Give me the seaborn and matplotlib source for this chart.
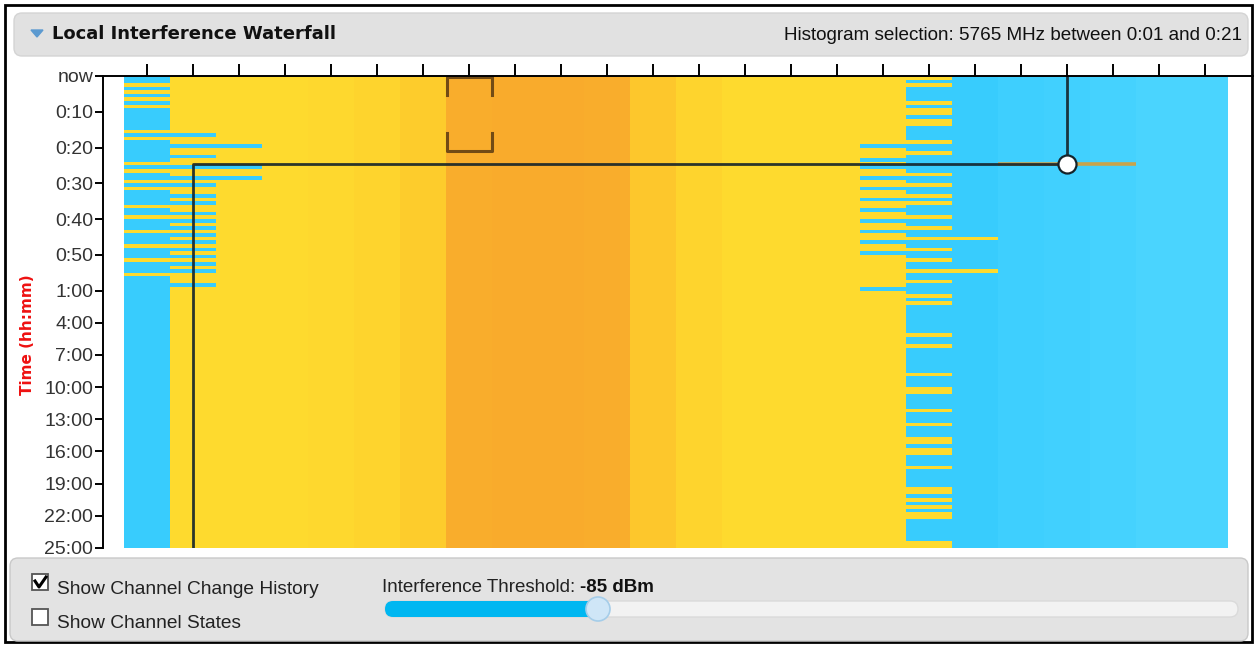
import numpy as np
import pandas as pd
import matplotlib
matplotlib.use("Agg")
import matplotlib.pyplot as plt
import seaborn as sns
from matplotlib.colors import LinearSegmentedColormap
from matplotlib.patches import FancyBboxPatch, Rectangle, Circle, Polygon

# interference level of each channel column (dBm)
channel_levels = [-95, -80, -80, -80, -79.7, -79, -77.5, -71, -70.5, -70.5, -71, -76.5,
                  -79, -80, -80, -80, -80, -95, -95, -96, -96.5, -97.5, -99, -99]
yellow_level = -80
blue_level = -95

# 60 one-minute rows for the first hour, then 72 rows of 20 minutes
first_hour_rows = 60
later_rows = 72

# first hour: how many channels from the left are under the threshold
left_blue = [1, 1, 0, 1, 0, 1, 0, 1, 0, 1, 1, 1, 1, 1, 1, 0, 2, 0, 1, 3,
             1, 1, 2, 1, 0, 3, 0, 1, 3, 0, 2, 0, 1, 2, 1, 2, 0, 1, 2, 0,
             2, 1, 2, 0, 2, 1, 2, 0, 2, 1, 2, 0, 2, 1, 2, 0, 1, 1, 2, 1]
# right edge of the band
col16_blue_rows = [19, 23, 25, 28, 31, 34, 37, 40, 43, 46, 49, 59]
col17_yellow_rows = [0, 2, 7, 9, 10, 12, 13, 18, 21, 27, 30, 33, 35, 39, 42, 45, 48, 51, 54,
                     57, 61, 63, 72, 75, 83, 87, 88, 93, 97, 101, 102, 104, 105, 109, 115,
                     116, 118, 120, 122, 123, 130, 131]
col18_yellow_rows = [45, 54]

# channel change history and histogram selection
old_channel = 1
new_channel = 20
change_row = 24.5
selected_channel = 7
selection_rows = (0.3, 21)

tick_minutes = [0, 10, 20, 30, 40, 50, 60, 240, 420, 600, 780, 960, 1140, 1320, 1500]
tick_labels = ["now", "0:10", "0:20", "0:30", "0:40", "0:50", "1:00", "4:00", "7:00",
               "10:00", "13:00", "16:00", "19:00", "22:00", "25:00"]

n_rows = first_hour_rows + later_rows
n_cols = len(channel_levels)
grid = np.tile(np.array(channel_levels, dtype=float), (n_rows, 1))
for r, k in enumerate(left_blue):
    grid[r, :k] = blue_level
    if k == 0:
        grid[r, 0] = yellow_level
for r in col16_blue_rows:
    grid[r, 16] = blue_level
for r in col17_yellow_rows:
    grid[r, 17] = yellow_level
for r in col18_yellow_rows:
    grid[r, 18] = yellow_level
df = pd.DataFrame(grid)

vmin, vmax = -100, -70
stops = [(-100, "#4dd5fe"), (-97, "#43d1fe"), (-95, "#38ccfd"), (-85.01, "#38ccfd"),
         (-85, "#ffdc2f"), (-80, "#feda2e"), (-77, "#fdca2c"), (-74, "#fbb92b"), (-70, "#f9a92c")]
cmap = LinearSegmentedColormap.from_list(
    "waterfall", [((v - vmin) / (vmax - vmin), c) for v, c in stops])

fig = plt.figure(figsize=(12.58, 6.46), dpi=100)

# background ui layer in pixel coords
ui = fig.add_axes([0, 0, 1, 1], zorder=0)
ui.set_xlim(0, 1258)
ui.set_ylim(646, 0)
ui.axis("off")
ui.add_patch(Rectangle((5, 5), 1247, 637, facecolor="white", edgecolor="black", lw=2))
ui.add_patch(FancyBboxPatch((14, 13), 1234, 43, boxstyle="round,pad=0,rounding_size=8",
                            facecolor="#e1e1e1", edgecolor="#d4d4d4", lw=1))
ui.add_patch(Polygon([(31, 30), (43, 30), (37, 37)], closed=True, color="#5c9ad0"))
ui.text(52, 34, "Local Interference Waterfall", fontsize=13, fontweight="bold",
        family="DejaVu Sans", va="center", ha="left", color="#111111")
ui.text(1242, 36, "Histogram selection: 5765 MHz between 0:01 and 0:21", fontsize=13.6,
        family="Liberation Sans", va="center", ha="right", color="#111111")

ui.add_patch(FancyBboxPatch((10, 558), 1238, 83, boxstyle="round,pad=0,rounding_size=8",
                            facecolor="#e3e3e3", edgecolor="#c9c9c9", lw=1))
ui.add_patch(Rectangle((32, 574), 16, 16, facecolor="white", edgecolor="#555555", lw=1.3))
ui.plot([35, 39, 46], [581, 587, 577], color="black", lw=2.2)
ui.add_patch(Rectangle((32, 609), 16, 16, facecolor="white", edgecolor="#555555", lw=1.3))
ui.text(57, 590, "Show Channel Change History", fontsize=13.8, family="Liberation Sans",
        va="center", ha="left", color="#222222")
ui.text(57, 624, "Show Channel States", fontsize=13.8, family="Liberation Sans",
        va="center", ha="left", color="#222222")
t = ui.text(382, 588, "Interference Threshold: ", fontsize=13.5, family="Liberation Sans",
            va="center", ha="left", color="#222222")
ui.annotate("-85 dBm", xycoords=t, xy=(1, 0.5), va="center", ha="left", fontsize=13.5,
            fontweight="bold", family="Liberation Sans", color="#111111")
ui.add_patch(FancyBboxPatch((385, 601), 853, 16, boxstyle="round,pad=0,rounding_size=8",
                            facecolor="#f2f2f2", edgecolor="#dadada", lw=1))
ui.add_patch(FancyBboxPatch((385, 601), 213, 16, boxstyle="round,pad=0,rounding_size=8",
                            facecolor="#00b7f1", edgecolor="none"))
ui.add_patch(Circle((598, 609), 12, facecolor="#cfe6f7", edgecolor="#a5cde9", lw=1.2))
ui.text(28, 335, "Time (hh:mm)", fontsize=11, fontweight="bold", family="DejaVu Sans",
        rotation=90, va="center", ha="center", color="#ee1111")

# waterfall heatmap
ax = fig.add_axes([103 / 1258, 1 - 548 / 646, 1150 / 1258, 472 / 646], zorder=1)
ax.patch.set_alpha(0)
sns.heatmap(df, ax=ax, cmap=cmap, vmin=vmin, vmax=vmax, cbar=False,
            xticklabels=False, yticklabels=False)
ax.set_xlim(-0.46, n_cols + 0.54)
ax.set_ylim(n_rows, 0)

for s in ["top", "left"]:
    ax.spines[s].set_visible(True)
    ax.spines[s].set_color("black")
    ax.spines[s].set_linewidth(1.4)
for s in ["bottom", "right"]:
    ax.spines[s].set_visible(False)

ax.xaxis.tick_top()
ax.set_xticks(np.arange(n_cols) + 0.5)
ax.set_xticklabels([])
ax.tick_params(axis="x", length=9, width=1.4, color="black")

tick_rows = [m if m <= 60 else first_hour_rows + (m - 60) / 20 for m in tick_minutes]
ax.set_yticks(tick_rows)
ax.set_yticklabels(tick_labels, fontsize=14, family="Liberation Sans", color="#333333")
ax.tick_params(axis="y", length=6, width=1.4, color="black", pad=1)
ax.set_xlabel("")
ax.set_ylabel("")

# channel change history
ax.plot([19, 22], [change_row + 0.2] * 2, color="#c9a34a", lw=2.6, solid_capstyle="butt")
ax.plot([old_channel + 0.5, old_channel + 0.5, new_channel + 0.5, new_channel + 0.5],
        [n_rows, change_row, change_row, 0], color="#14232a", lw=2, alpha=0.9)
ax.plot([new_channel + 0.5], [change_row], marker="o", markersize=13,
        markerfacecolor="white", markeredgecolor="#14232a", markeredgewidth=1.6)

# histogram selection brackets
x0, x1 = selected_channel + 0.02, selected_channel + 1.0
y0, y1 = selection_rows
leg = 5
kw = dict(color="#5a3a12", lw=2.2, alpha=0.85)
ax.plot([x0, x0, x1, x1], [y0 + leg, y0, y0, y0 + leg], **kw)
ax.plot([x0, x0, x1, x1], [y1 - leg, y1, y1, y1 - leg], **kw)

fig.savefig("out.png", dpi=100)
